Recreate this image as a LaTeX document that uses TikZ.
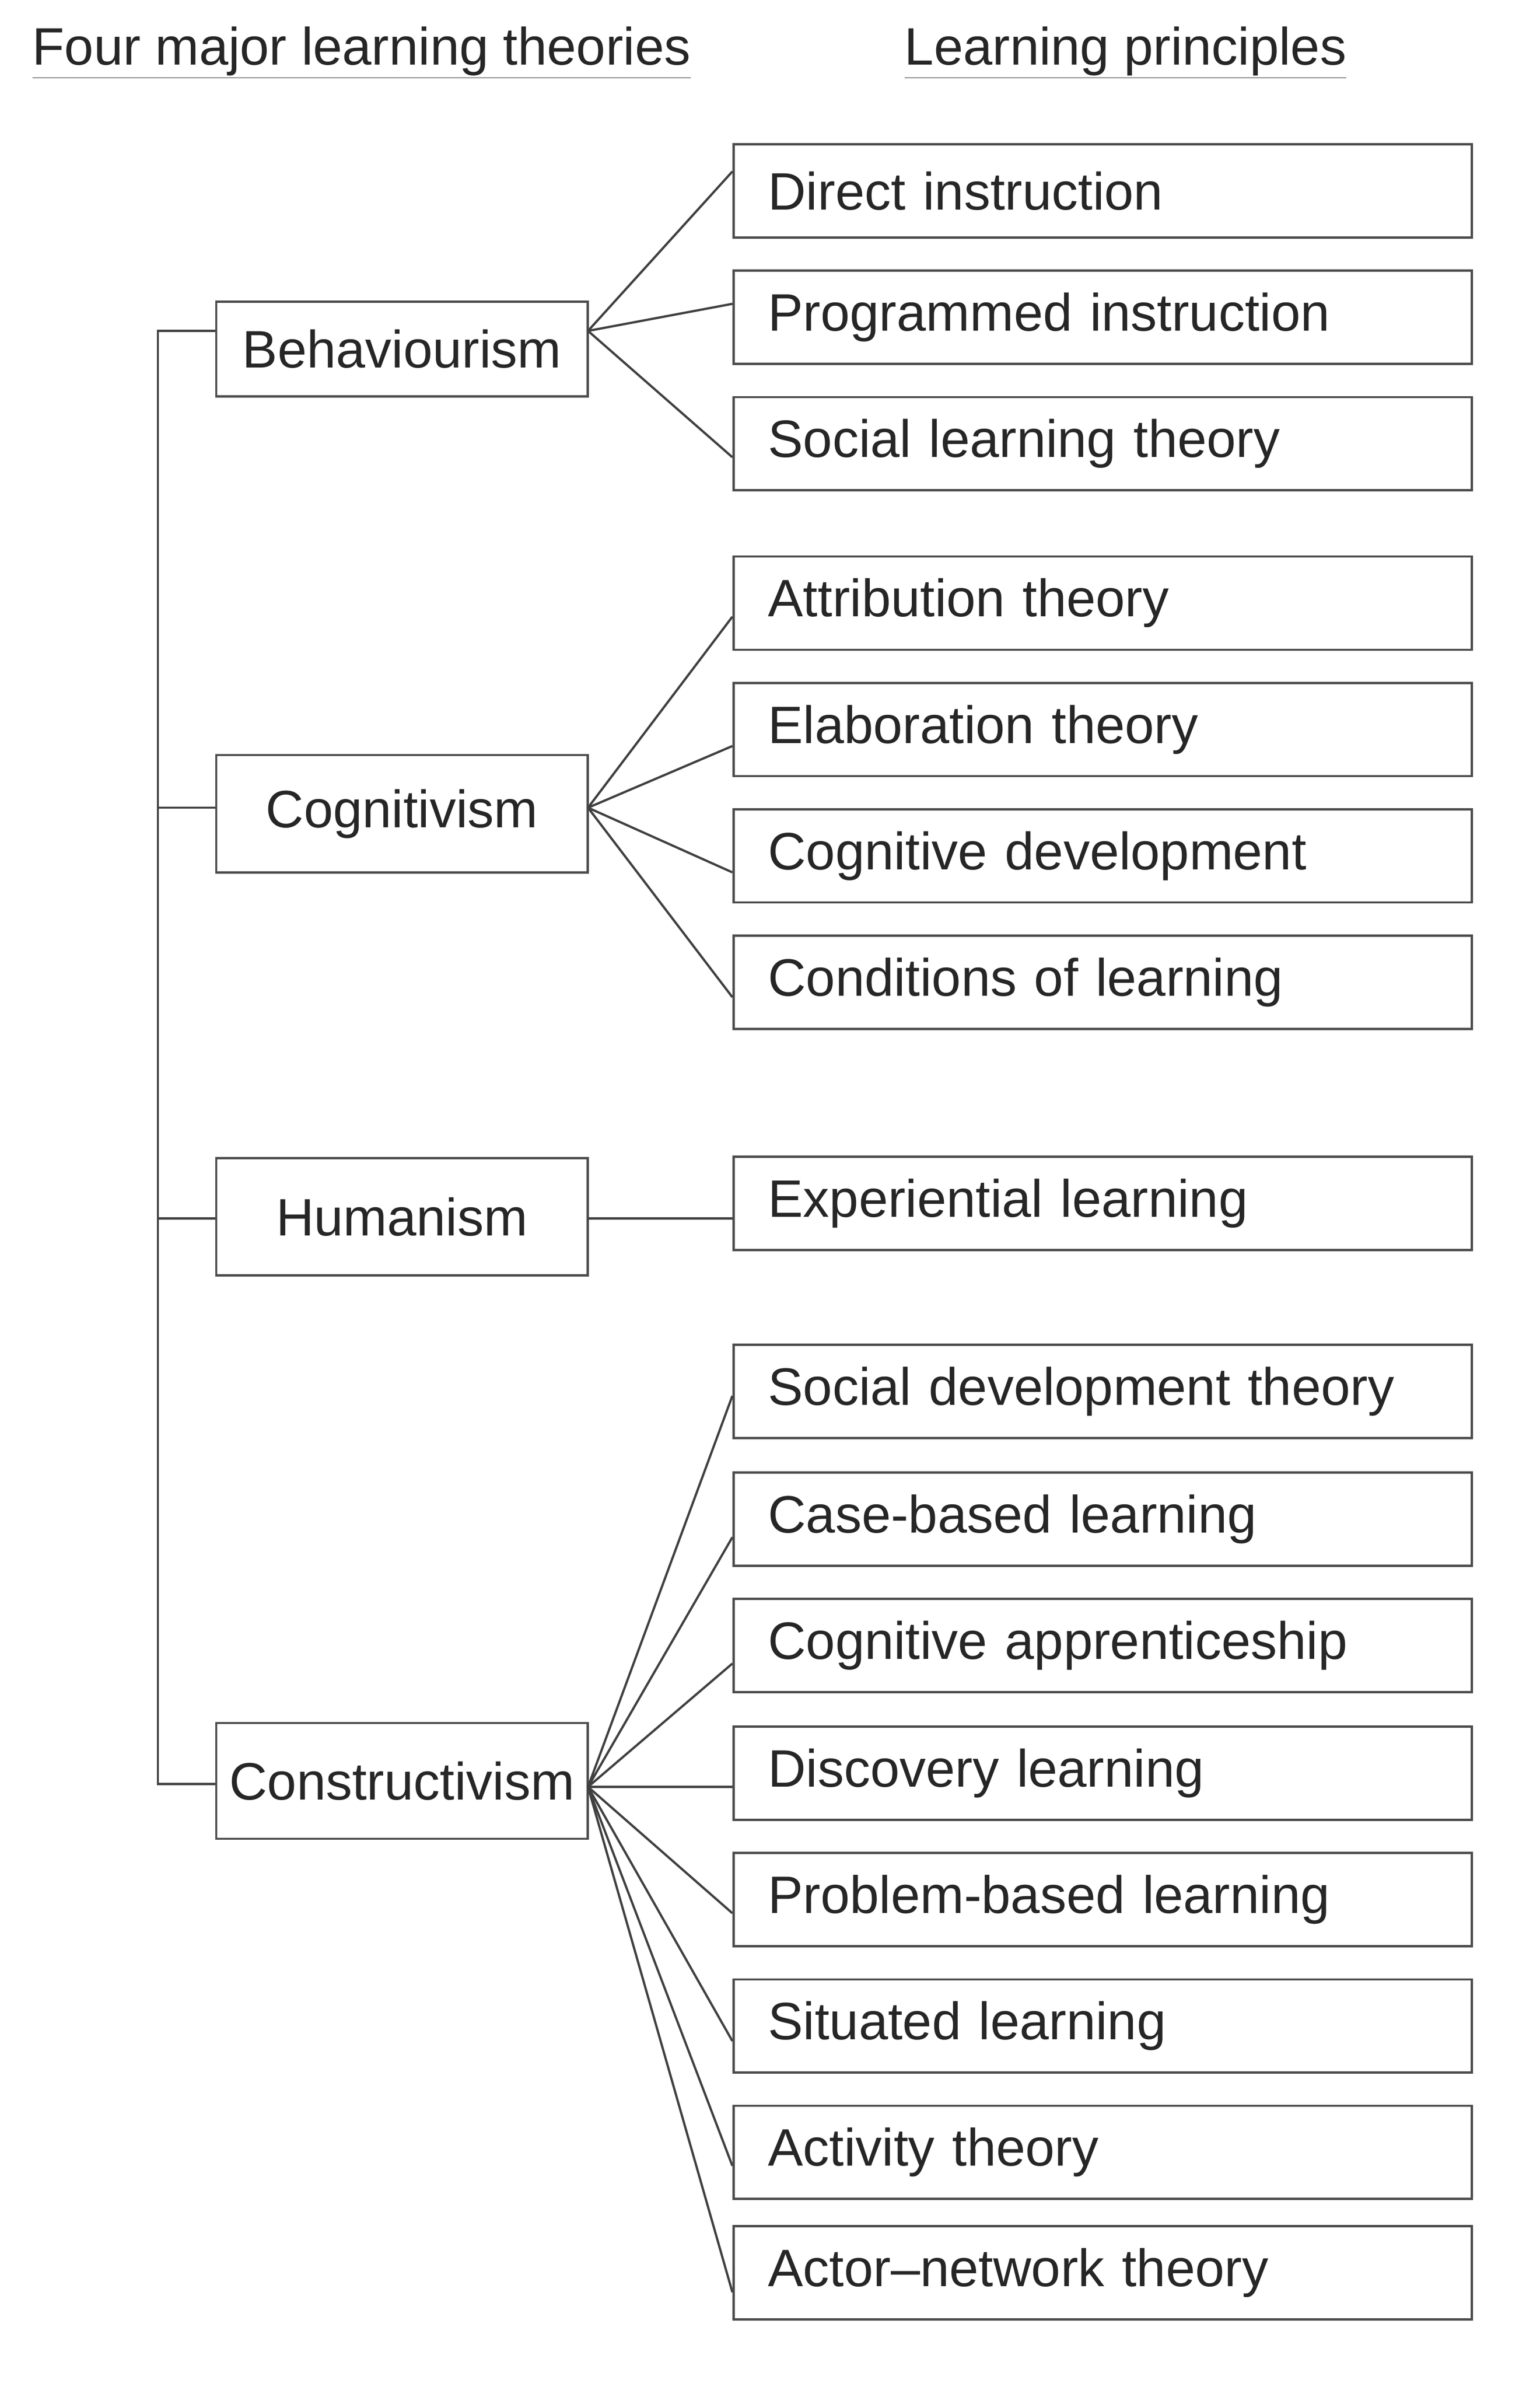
\documentclass[tikz,border=0pt]{standalone}
\usepackage{fontspec}
\setmainfont{Liberation Sans}
\begin{document}
\begin{tikzpicture}[x=1pt,y=-1pt,
  every node/.style={font=\fontsize{35}{42}\selectfont, text=black!85},
  pbox/.style={draw=black!70, line width=1.5pt, minimum width=491pt, minimum height=62pt, text width=445pt, align=left, inner xsep=23pt, anchor=west},
  tbox/.style={draw=black!70, line width=1.5pt, minimum width=247pt, minimum height=#1, inner xsep=0pt, anchor=west},
  ln/.style={draw=black!75, line width=1.5pt}]
\useasboundingbox (0,0) rectangle (1024,1589);
\node[anchor=west] (h1) at (18,35) {\underline{Four major learning theories}};
\node[anchor=west] (h2) at (598,35) {\underline{Learning principles}};
\node[tbox=63pt] (beh) at (143,232) {Behaviourism};
\node[tbox=78pt] (cog) at (143,541) {Cognitivism};
\node[tbox=78pt] (hum) at (143,809) {Humanism};
\node[tbox=77pt] (con) at (143,1184) {Constructivism};
\foreach \n/\y/\t in {p1/127/Direct instruction, p2/211/Programmed instruction, p3/295/Social learning theory,
 p4/401/Attribution theory, p5/485/Elaboration theory, p6/569/Cognitive development, p7/653/Conditions of learning,
 p8/800/Experiential learning, p9/925/Social development theory, p10/1010/Case-based learning,
 p11/1094/Cognitive apprenticeship, p12/1179/Discovery learning, p13/1263/Problem-based learning,
 p14/1347/Situated learning, p15/1431/Activity theory, p16/1511/Actor–network theory}
  \node[pbox] (\n) at (487,\y) {\t};
\coordinate (top) at (105,220);
\coordinate (bot) at (105,1186);
\draw[ln] (beh.west |- top) -- (top) -- (bot) -- (con.west |- bot);
\draw[ln] (cog.west) ++(0,-4) -- +(-38,0);
\draw[ln] (hum.west) ++(0,1) -- +(-38,0);
\coordinate (be) at (391,220);
\coordinate (ce) at (391,537);
\coordinate (he) at (391,810);
\coordinate (ke) at (391,1188);
\draw[ln] (be) -- ([yshift=13pt]p1.west) (be) -- ([yshift=9pt]p2.west) (be) -- ([yshift=-9pt]p3.west);
\draw[ln] (ce) -- ([yshift=-9pt]p4.west) (ce) -- ([yshift=-11pt]p5.west) (ce) -- ([yshift=-11pt]p6.west) (ce) -- ([yshift=-10pt]p7.west);
\draw[ln] (he) -- (he -| p8.west);
\foreach \n/\d in {p9/-3,p10/-12,p11/-12,p12/-9,p13/-9,p14/-10,p15/-9,p16/-13}
  \draw[ln] (ke) -- ([yshift=\d pt]\n.west);
\end{tikzpicture}
\end{document}
